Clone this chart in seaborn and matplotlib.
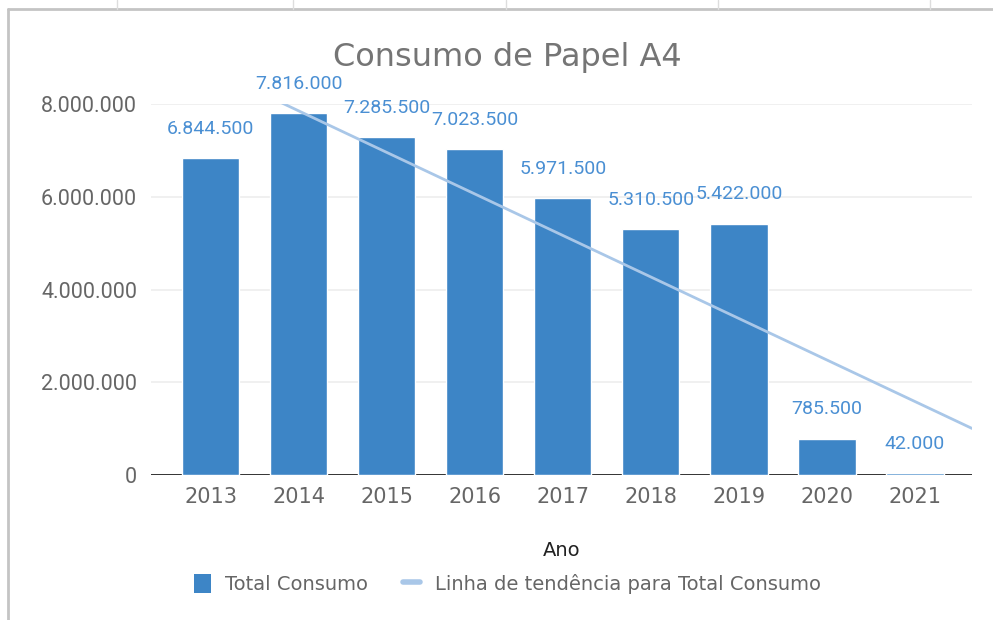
"""Consumo de Papel A4 - barras anuais com linha de tendencia."""

import numpy as np
import pandas as pd
import matplotlib

matplotlib.use("Agg")
import matplotlib.pyplot as plt
from matplotlib.lines import Line2D
from matplotlib.patches import Patch
import seaborn as sns


anos = ["2013", "2014", "2015", "2016", "2017", "2018", "2019", "2020", "2021"]
total_consumo = [6844500, 7816000, 7285500, 7023500, 5971500, 5310500, 5422000, 785500, 42000]
y_ticks = [0, 2000000, 4000000, 6000000, 8000000]

BAR_COLOR = "#3d85c6"
TREND_COLOR = "#a9c7e8"
LABEL_COLOR = "#4a8fd3"
TEXT_GRAY = "#666666"
TITLE_GRAY = "#757575"


def fmt_pt(value: float) -> str:
    """Formata com ponto como separador de milhar."""
    return f"{value:,.0f}".replace(",", ".")


sns.set_theme(style="white")
plt.rcParams.update({"font.family": ["DejaVu Sans"]})

df = pd.DataFrame({"ano": anos, "total": total_consumo})
df["pos"] = np.arange(len(df))

fig = plt.figure(figsize=(9.93, 6.2), dpi=100)
ax = fig.add_axes([0.152, 0.234, 0.827, 0.598])

sns.barplot(data=df, x="ano", y="total", color=BAR_COLOR, saturation=1,
            width=0.65, ax=ax, zorder=5)

ax.set_xlim(-0.68, 8.65)
ax.set_ylim(0, 8000000)

# linha de tendencia (regressao linear sobre o indice do ano)
sns.regplot(data=df, x="pos", y="total", scatter=False, ci=None, truncate=False,
            color=TREND_COLOR, line_kws={"linewidth": 2.0, "zorder": 6}, ax=ax)
ax.set_xlim(-0.68, 8.65)
ax.set_ylim(0, 8000000)

labels = ax.bar_label(ax.containers[0], labels=[fmt_pt(v) for v in total_consumo],
                      padding=14.5, color=LABEL_COLOR, fontsize=14, family="Roboto")
for lab in labels:
    lab.set_clip_on(False)

ax.set_yticks(y_ticks)
ax.set_yticklabels([fmt_pt(v) for v in y_ticks], family="Roboto", fontsize=15.5,
                   color=TEXT_GRAY)
for lab in ax.get_xticklabels():
    lab.set_fontsize(15)
    lab.set_color(TEXT_GRAY)
ax.tick_params(axis="both", length=0)
ax.tick_params(axis="y", pad=10)
ax.tick_params(axis="x", pad=9)

ax.grid(axis="y", color="#ededed", linewidth=1.2, zorder=0)
ax.set_axisbelow(True)
for spine in ax.spines.values():
    spine.set_visible(False)
ax.axhline(0, color="#333333", linewidth=1.4, zorder=4)

ax.set_xlabel("Ano", fontsize=14, color="#222222", labelpad=24)
ax.set_ylabel("")

fig.text(0.511, 0.908, "Consumo de Papel A4", ha="center", va="center",
         fontsize=23, color=TITLE_GRAY)

handles = [
    Patch(facecolor=BAR_COLOR, edgecolor="none"),
    Line2D([0], [0], color=TREND_COLOR, linewidth=4),
]
fig.legend(handles, ["Total Consumo", "Linha de tendência para Total Consumo"],
           loc="center", bbox_to_anchor=(0.511, 0.058), ncol=2, frameon=False,
           fontsize=14, labelcolor=TEXT_GRAY, handlelength=0.85, handleheight=1.15,
           handletextpad=0.75, columnspacing=1.8)

# moldura da planilha
fig.add_artist(Line2D([0.008, 1.0], [0.985, 0.985], color="#c4c4c4", linewidth=2))
fig.add_artist(Line2D([0.008, 0.008], [0.0, 0.985], color="#c4c4c4", linewidth=2))
for xc in [117, 293, 506, 718, 930]:
    fig.add_artist(Line2D([xc / 993, xc / 993], [0.985, 1.0], color="#dddddd",
                          linewidth=1))

fig.savefig("out.png", dpi=100)
